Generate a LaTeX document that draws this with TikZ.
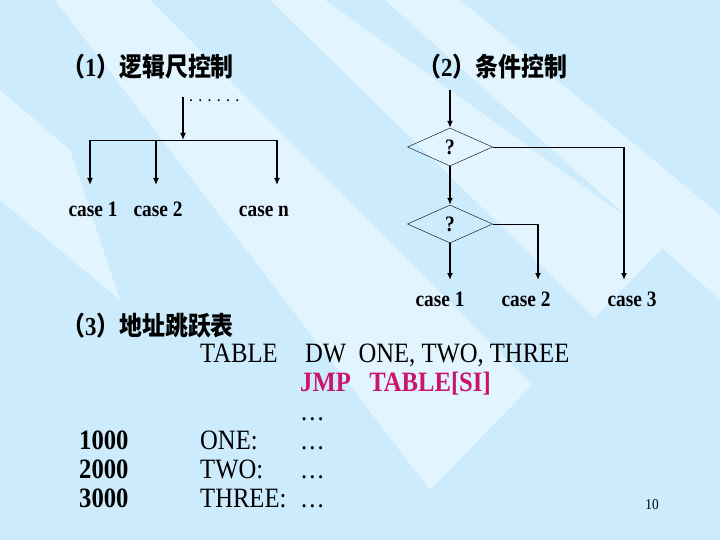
\documentclass[tikz,border=0pt]{standalone}
\usepackage{fontspec}
\setmainfont{Liberation Serif}[FakeStretch=0.88]
\newfontfamily\cjk{Noto Sans CJK SC}[FakeStretch=0.88]
\usetikzlibrary{arrows.meta,positioning,shapes.geometric}
\definecolor{slidebg}{RGB}{204,235,252}
\definecolor{stripe}{RGB}{226,244,254}
\definecolor{jmpred}{RGB}{204,20,110}

\begin{document}
\begin{tikzpicture}[
	x=1pt,y=-1pt,
	>={Latex[length=7pt,width=6pt]},
	title/.style={anchor=west,inner sep=0pt,font=\fontsize{26}{30}\selectfont\bfseries},
	caselbl/.style={anchor=base,inner sep=0pt,font=\fontsize{22}{24}\selectfont\bfseries},
	cond/.style={diamond,draw,thin,minimum width=85pt,minimum height=38pt,
		inner sep=0pt,font=\fontsize{22}{24}\selectfont\bfseries},
	arr/.style={->,line width=1.6pt},
	wire/.style={line width=0.9pt},
	code/.style={anchor=base west,inner sep=0pt,font=\fontsize{28}{30}\selectfont},
	addr/.style={code,font=\fontsize{28}{30}\selectfont\bfseries}
	]
	
	% slide background
	\useasboundingbox (0,0) rectangle (720,540);
	\fill[slidebg] (0,0) rectangle (720,540);
	\fill[stripe] (55,0) -- (150,0) -- (532,385) -- (430,490) -- cycle;
	\fill[stripe] (270,0) -- (325,0) -- (665,245) -- (595,318) -- cycle;
	\fill[stripe] (385,0) -- (460,0) -- (720,215) -- (720,300) -- cycle;
	\fill[stripe] (0,90) -- (0,200) -- (120,300) -- (70,150) -- cycle;
	
	% (1) logic ruler
	\node[title] (h1) at (62,67) {{\cjk （}1{\cjk ）逻辑尺控制}};
	\coordinate (in1) at (183,97);
	\coordinate (bar) at (183,140);
	\coordinate (barl) at (90,140);
	\coordinate (barr) at (277,140);
	\node[anchor=base west,inner sep=0pt,font=\fontsize{18}{20}\selectfont] (dots) at (189,102) {. . . . . .};
	\draw[arr] (in1) -- (bar);
	\draw[wire] (barl) -- (barr);
	\coordinate (t1) at (90,185);
	\coordinate (t2) at (156,185);
	\coordinate (tn) at (277,185);
	\draw[arr] (barl) -- (t1);
	\draw[arr] (barl -| t2) -- (t2);
	\draw[arr] (barr) -- (tn);
	\node[caselbl] (c1) at (93,216) {case 1};
	\node[caselbl] (c2) at (158,216) {case 2};
	\node[caselbl] (cn) at (264,216) {case n};
	
	% (2) condition control
	\node[title] (h2) at (418,67) {{\cjk （}2{\cjk ）条件控制}};
	\coordinate (in2) at (450,90);
	\node[cond] (q1) at (450,147) {?};
	\node[cond] (q2) at (450,224) {?};
	\coordinate (e1) at (450,280);
	\coordinate (e2) at (538,280);
	\coordinate (e3) at (624,280);
	\draw[arr] (in2) -- (q1.north);
	\draw[arr] (q1.south) -- (q2.north);
	\draw[arr] (q2.south) -- (e1);
	\draw[wire] (q1.east) -- (q1.east -| e3);
	\draw[arr] (q1.east -| e3) -- (e3);
	\draw[wire] (q2.east) -- (q2.east -| e2);
	\draw[arr] (q2.east -| e2) -- (e2);
	\node[caselbl] (d1) at (440,306) {case 1};
	\node[caselbl] (d2) at (526,306) {case 2};
	\node[caselbl] (d3) at (632,306) {case 3};
	
	% (3) address jump table
	\node[title] (h3) at (62,326) {{\cjk （}3{\cjk ）地址跳跃表}};
	\node[code] (tab) at (200,362) {TABLE};
	\node[code] (dw) at (305,362) {DW\ \ ONE, TWO, THREE};
	\node[addr,text=jmpred] (jmp) at (300,391) {JMP\ \ \ TABLE[SI]};
	\node[code] (el0) at (300,420) {\dots};
	\node[addr] (a1) at (79,449) {1000};
	\node[addr] (a2) at (79,478) {2000};
	\node[addr] (a3) at (79,507) {3000};
	\node[code] (one) at (200,449) {ONE:};
	\node[code] (two) at (200,478) {TWO:};
	\node[code] (three) at (200,507) {THREE:};
	\node[code] (el1) at (300,449) {\dots};
	\node[code] (el2) at (300,478) {\dots};
	\node[code] (el3) at (300,507) {\dots};
	\node[inner sep=0pt,font=\fontsize{15}{16}\selectfont] (pg) at (652,505) {10};
	
\end{tikzpicture}
\end{document}
